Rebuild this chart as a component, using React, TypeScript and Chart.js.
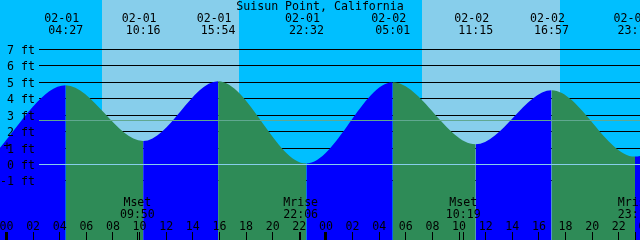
import React, { useEffect, useRef } from "react";
import { Chart, registerables } from "chart.js";

Chart.register(...registerables);

const TITLE = "Suisun Point, California";

// Tide extremes: hours since 02-01 00:00, height in feet
const tideHours = [-1.3, 4.45, 10.267, 15.9, 22.533, 29.017, 35.25, 40.95, 47.22, 53.4];
const tideFeet = [0.3, 4.82, 1.43, 5.07, 0.06, 5.0, 1.23, 4.52, 0.48, 4.8];
const tideDateLabels = ["", "02-01", "02-01", "02-01", "02-01", "02-02", "02-02", "02-02", "02-02", ""];
const tideTimeLabels = ["", "04:27", "10:16", "15:54", "22:32", "05:01", "11:15", "16:57", "23:13", ""];

// Daylight
const sunriseHours = [7.14, 31.18];
const sunsetHours = [17.5, 41.55];

// Moon events
const moonHours = [9.833, 22.1, 34.317, 47.23];
const moonNames = ["Mset", "Mrise", "Mset", "Mrise"];
const moonTimeLabels = ["09:50", "22:06", "10:19", "23:14"];

// Axes
const feetTicks = [-1, 0, 1, 2, 3, 4, 5, 6, 7];
const hourTicks = [0, 2, 4, 6, 8, 10, 12, 14, 16, 18, 20, 22, 24, 26, 28, 30, 32, 34, 36, 38, 40, 42, 44, 46, 48];
const midnightHours = [0, 24, 48];
const MEAN_FEET = 2.68;

const X_MIN = -0.488;
const X_MAX = 47.596;
const Y_MIN = -4.595;
const Y_MAX = 10.01;

const NIGHT = "#00BFFF";
const DAY = "#87CEEB";
const RISE = "#0000FF";
const FALL = "#2E8B57";
const ZERO_LINE = "#87CEEB";
const MEAN_LINE = "#60A890";
const FONT = '11.6px "DejaVu Sans Mono", monospace';
const GRID_LEFT = 39;

const pad2 = (n: number) => String(n).padStart(2, "0");

const tidePlugin = {
  id: "tideDecor",
  beforeDatasetsDraw(chart: any) {
    const { ctx, chartArea: a, scales } = chart;
    const x = scales.x;
    const y = scales.y;
    ctx.save();
    ctx.fillStyle = NIGHT;
    ctx.fillRect(a.left, a.top, a.right - a.left, a.bottom - a.top);
    ctx.fillStyle = DAY;
    sunriseHours.forEach((h: number, i: number) => {
      const x0 = Math.round(x.getPixelForValue(h));
      const x1 = Math.round(x.getPixelForValue(sunsetHours[i]));
      ctx.fillRect(x0, a.top, x1 - x0, a.bottom - a.top);
    });
    ctx.fillStyle = "#000";
    feetTicks.forEach((f) => {
      if (f === 0) return;
      const py = Math.floor(y.getPixelForValue(f));
      ctx.fillRect(GRID_LEFT, py, a.right - GRID_LEFT, 1);
    });
    ctx.restore();
  },
  afterDatasetsDraw(chart: any) {
    const { ctx, chartArea: a, scales } = chart;
    const x = scales.x;
    const y = scales.y;
    ctx.save();
    // zero and mean lines on top of the water
    ctx.fillStyle = ZERO_LINE;
    ctx.fillRect(GRID_LEFT, Math.floor(y.getPixelForValue(0)), a.right - GRID_LEFT, 1);
    ctx.fillStyle = MEAN_LINE;
    ctx.fillRect(GRID_LEFT, Math.floor(y.getPixelForValue(MEAN_FEET)), a.right - GRID_LEFT, 1);

    ctx.font = FONT;
    ctx.fillStyle = "#000";
    ctx.textBaseline = "alphabetic";

    // title
    ctx.textAlign = "center";
    ctx.fillText(TITLE, 320, 10);

    // tide extreme labels
    tideHours.forEach((h: number, i: number) => {
      if (!tideDateLabels[i]) return;
      const px = x.getPixelForValue(h);
      ctx.fillText(tideDateLabels[i], px - 4, 22);
      ctx.fillText(tideTimeLabels[i], px, 34);
    });

    // y labels
    ctx.textAlign = "right";
    feetTicks.forEach((f) => {
      const py = Math.floor(y.getPixelForValue(f));
      ctx.fillText(`${f} ft`, 35, py + 5);
    });
    ctx.textAlign = "center";
    ctx.fillText("+", 7, Math.floor(y.getPixelForValue(1)) + 2);

    // moon labels
    moonHours.forEach((h: number, i: number) => {
      const px = x.getPixelForValue(h);
      ctx.fillText(moonNames[i], px, 206);
      ctx.fillText(moonTimeLabels[i], px, 218);
      ctx.fillRect(Math.floor(px), 232, 1, 8);
    });

    // hour labels and ticks
    hourTicks.forEach((h) => {
      const px = x.getPixelForValue(h);
      ctx.fillText(pad2(h % 24), px, 230);
      if (midnightHours.includes(h)) {
        ctx.fillRect(Math.floor(px) - 1, 232, 3, 8);
      } else {
        ctx.fillRect(Math.floor(px), 232, 1, 8);
      }
    });
    ctx.restore();
  },
};

export default function App() {
  const canvasRef = useRef<HTMLCanvasElement | null>(null);

  useEffect(() => {
    if (!canvasRef.current) return;
    const chart = new Chart(canvasRef.current, {
      type: "line",
      data: {
        datasets: [
          {
            data: tideHours.map((h, i) => ({ x: h, y: tideFeet[i] })),
            fill: "start",
            backgroundColor: RISE,
            borderColor: "rgba(0,0,0,0)",
            borderWidth: 0,
            pointRadius: 0,
            cubicInterpolationMode: "monotone",
            segment: {
              backgroundColor: (c: any) => (c.p1.parsed.y > c.p0.parsed.y ? RISE : FALL),
            },
          } as any,
        ],
      },
      options: {
        animation: false,
        responsive: false,
        devicePixelRatio: 1,
        layout: { padding: 0 },
        plugins: { legend: { display: false }, tooltip: { enabled: false } },
        events: [],
        scales: {
          x: { type: "linear", min: X_MIN, max: X_MAX, display: false },
          y: { type: "linear", min: Y_MIN, max: Y_MAX, display: false },
        },
      },
      plugins: [tidePlugin],
    });
    return () => chart.destroy();
  }, []);

  return (
    <div style={{ position: "fixed", left: 0, top: 0, width: 640, height: 240 }}>
      <canvas ref={canvasRef} width={640} height={240} style={{ display: "block" }} />
    </div>
  );
}
